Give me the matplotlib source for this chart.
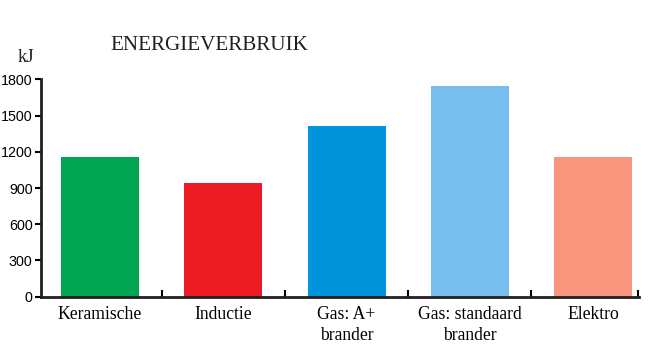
import matplotlib.pyplot as plt
import numpy as np

# Gegevens
categorieen = ['Keramische', 'Inductie', 'Gas: A+\nbrander', 'Gas: standaard\nbrander', 'Elektro']
waarden = [1160, 940, 1410, 1745, 1160]
kleuren = ['#00A651', '#ED1C24', '#0095DA', '#77BDEE', '#F7967C']
yticks = [0, 300, 600, 900, 1200, 1500, 1800]

serif = 'Liberation Serif'
sans = 'Liberation Sans'

fig = plt.figure(figsize=(6.52, 3.53), dpi=100)
ax = fig.add_axes([41 / 652, 1 - 296.7 / 353, 598 / 652, (296.7 - 79.3) / 353])

x = np.arange(len(categorieen))
ax.bar(x, waarden, width=0.633, color=kleuren)

x_links, x_rechts = -0.479, 4.373
ax.set_xlim(x_links, x_rechts)
ax.set_ylim(0, 1800)

ax.set_yticks(yticks)
ax.set_yticklabels([str(v) for v in yticks], fontfamily=sans, fontsize=10.3)
ax.tick_params(axis='y', direction='out', length=4, width=1.5, pad=2)

# categorie-labels
ax.set_xticks(x)
ax.set_xticklabels(categorieen, fontfamily=serif, fontsize=12.7, linespacing=1.3, va='top')
ax.tick_params(axis='x', which='major', length=0, pad=7)
# kleine streepjes tussen de staven
ax.set_xticks(list(x[:-1] + 0.5) + [x_rechts - 0.005], minor=True)
ax.tick_params(axis='x', which='minor', direction='in', length=5, width=1.5)

for s in ['top', 'right']:
    ax.spines[s].set_visible(False)
for s in ['left', 'bottom']:
    ax.spines[s].set_linewidth(2)
    ax.spines[s].set_color('#231F20')

fig.text(110 / 652, 1 - 45 / 353, 'ENERGIEVERBRUIK', fontfamily=serif, fontsize=15.2,
         va='center', ha='left', color='#231F20')
fig.text(18 / 652, 1 - 58 / 353, 'kJ', fontfamily=serif, fontsize=13.5,
         va='center', ha='left', color='#231F20')

fig.savefig('out.png', dpi=100)
